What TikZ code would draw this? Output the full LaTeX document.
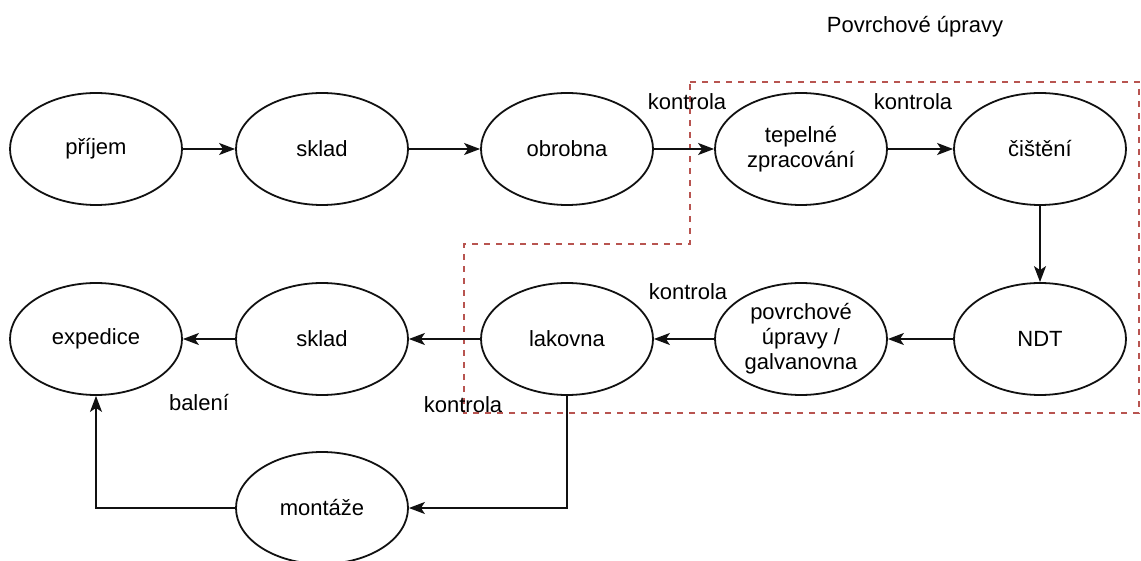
\documentclass[tikz,border=0pt]{standalone}
\usepackage{fontspec}
\setmainfont{Liberation Sans}
\usetikzlibrary{arrows.meta, shapes.geometric}
\usepackage{xcolor}
\definecolor{zonered}{HTML}{B85450}
\definecolor{linegray}{HTML}{111111}

\begin{document}
\begin{tikzpicture}[x=1pt, y=-1pt,
      stage/.style={ellipse, draw=linegray, line width=1.8pt, fill=white, inner sep=0pt, minimum width=172pt, minimum height=112pt, align=center, font=\fontsize{22}{25}\selectfont},
      note/.style={font=\fontsize{22}{25}\selectfont, inner sep=0pt},
      flow/.style={-{Stealth[length=16pt, width=12pt, inset=4pt]}, line width=1.8pt, linegray},
      zone/.style={zonered, line width=1.3pt, dash pattern=on 6pt off 6pt},
    ]
    \useasboundingbox (0,0) rectangle (1141,561);

    % zone of the surface treatments
    \draw[zone] (690,82) -- (1139,82) -- (1139,413) -- (464,413) -- (464,244) -- (690,244) -- cycle;
    \node[note] (zonelabel) at (915,27) {Povrchové úpravy};

    % upper row
    \node[stage] (prijem) at (96,149) {příjem};
    \node[stage] (skladA) at (322,149) {sklad};
    \node[stage] (obrobna) at (567,149) {obrobna};
    \node[stage] (tepelne) at (801,149) {tepelné\\zpracování};
    \node[stage] (cisteni) at (1040,149) {čištění};

    % lower row
    \node[stage] (expedice) at (96,339) {expedice};
    \node[stage] (skladB) at (322,339) {sklad};
    \node[stage] (lakovna) at (567,339) {lakovna};
    \node[stage] (galvan) at (801,339) {povrchové\\úpravy /\\galvanovna};
    \node[stage] (ndt) at (1040,339) {NDT};
    \node[stage] (montaze) at (322,508) {montáže};

    \draw[flow] (prijem) -- (skladA);
    \draw[flow] (skladA) -- (obrobna);
    \draw[flow] (obrobna) -- (tepelne);
    \draw[flow] (tepelne) -- (cisteni);
    \draw[flow] (cisteni) -- (ndt);
    \draw[flow] (ndt) -- (galvan);
    \draw[flow] (galvan) -- (lakovna);
    \draw[flow] (lakovna) -- (skladB);
    \draw[flow] (skladB) -- (expedice);
    \draw[flow] (lakovna) |- (montaze);
    \draw[flow] (montaze) -| (expedice);

    \node[note] (kontrolaA) at (687,102) {kontrola};
    \node[note] (kontrolaB) at (913,102) {kontrola};
    \node[note] (kontrolaC) at (688,292) {kontrola};
    \node[note] (kontrolaD) at (463,405) {kontrola};
    \node[note] (baleni) at (199,403) {balení};
  \end{tikzpicture}
\end{document}
